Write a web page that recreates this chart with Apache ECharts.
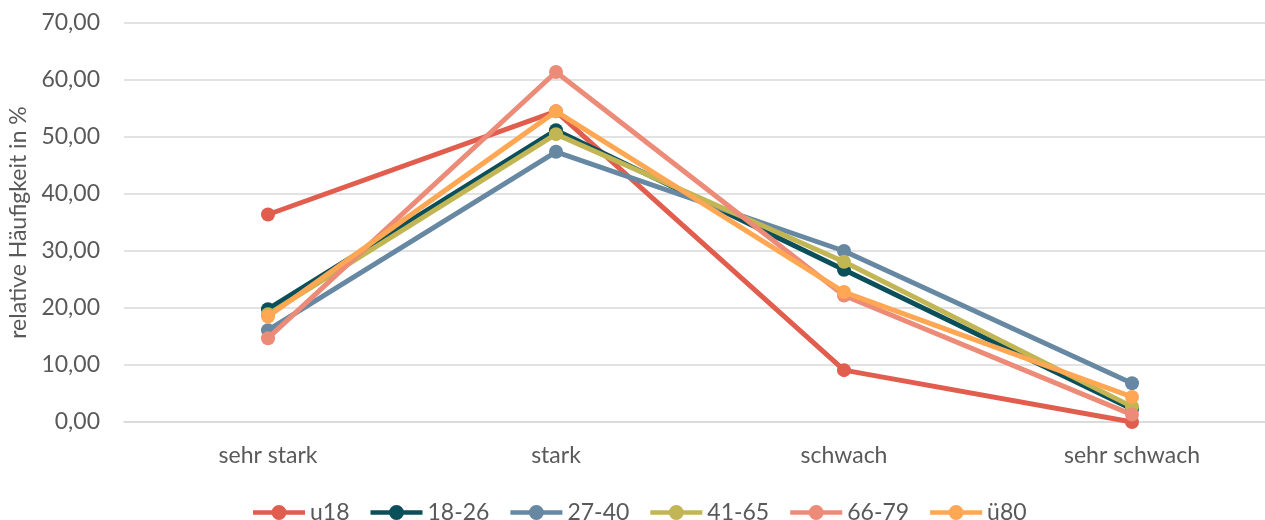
<!DOCTYPE html>
<html>
<head>
<meta charset="utf-8">
<script src="https://cdn.jsdelivr.net/npm/echarts@6/dist/echarts.min.js"></script>
<style>html,body{margin:0;padding:0;background:#fff}#c{width:1265px;height:520px}</style>
</head>
<body>
<div id="c"></div>
<script>
const categories = ['sehr stark', 'stark', 'schwach', 'sehr schwach'];
const seriesNames = ['u18', '18-26', '27-40', '41-65', '66-79', 'ü80'];
const u18 = [36.4, 54.5, 9.1, 0.0];
const a18_26 = [19.8, 51.2, 26.7, 2.3];
const a27_40 = [16.1, 47.4, 30.0, 6.8];
const a41_65 = [18.9, 50.5, 28.1, 2.7];
const a66_79 = [14.7, 61.4, 22.2, 1.3];
const ue80 = [18.5, 54.5, 22.8, 4.4];
const seriesData = [u18, a18_26, a27_40, a41_65, a66_79, ue80];
const colors = ['#E15E4E', '#0B4F5B', '#6788A2', '#C2B553', '#EC8B77', '#FFA752'];
const yTicks = { min: 0, max: 70, interval: 10 };

const font = 'Lato, "Open Sans", sans-serif';
const legendIcon = 'path://M0,5.25h52v4.5h-52z M18.5,7.5a7.5,7.5 0 1,1 15,0a7.5,7.5 0 1,1 -15,0z';
const chart = echarts.init(document.getElementById('c'));
chart.setOption({
  animation: false,
  color: colors,
  grid: { left: 124, width: 1152, top: 23, bottom: 98, containLabel: false, outerBoundsMode: 'none' },
  legend: {
    left: 248, top: 496,
    itemWidth: 52, itemHeight: 15, itemGap: 21,
    icon: legendIcon,
    textStyle: { fontFamily: font, fontSize: 23, color: '#595959' },
    data: seriesNames
  },
  xAxis: {
    type: 'category', data: categories, boundaryGap: true,
    axisLine: { show: true, lineStyle: { color: '#D9D9D9', width: 1.5 } },
    axisTick: { show: false },
    axisLabel: { fontFamily: font, fontSize: 23, color: '#595959', margin: 22 }
  },
  yAxis: {
    type: 'value', min: yTicks.min, max: yTicks.max, interval: yTicks.interval,
    name: 'relative Häufigkeit in %', nameLocation: 'middle', nameGap: 91,
    nameTextStyle: { fontFamily: font, fontSize: 23, color: '#595959' },
    axisLine: { show: false }, axisTick: { show: false },
    splitLine: { lineStyle: { color: '#D9D9D9', width: 1.5 } },
    axisLabel: { fontFamily: font, fontSize: 23, color: '#595959', margin: 24,
      formatter: v => v.toFixed(2).replace('.', ',') }
  },
  series: seriesNames.map((n, i) => ({
    name: n, type: 'line', data: seriesData[i],
    symbol: 'circle', symbolSize: 14,
    lineStyle: { width: 5, color: colors[i] },
    itemStyle: { color: colors[i] },
    z: 2 + i
  }))
});
</script>
</body>
</html>
